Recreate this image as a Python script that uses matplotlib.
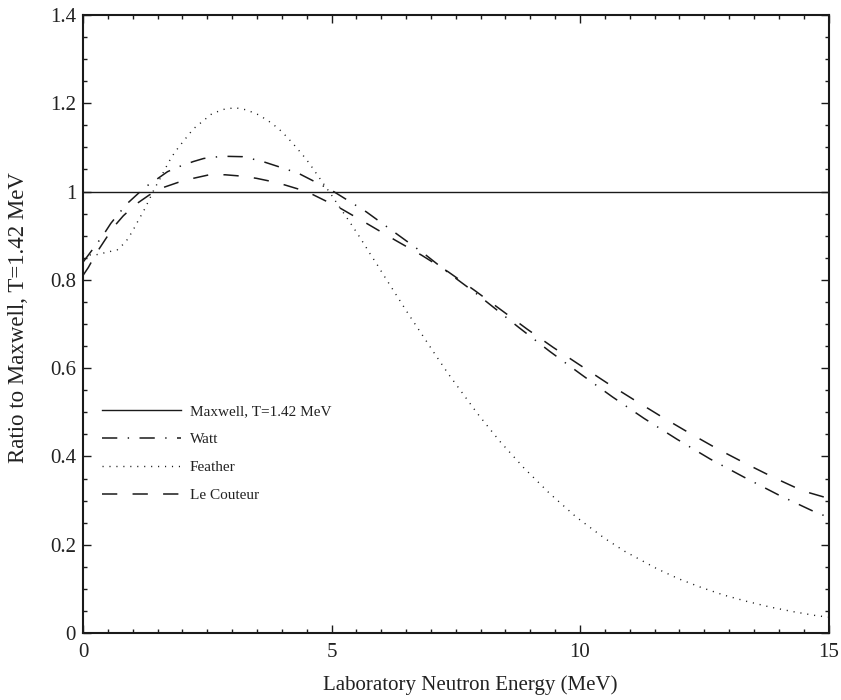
import numpy as np
import matplotlib
matplotlib.use("Agg")
import matplotlib.pyplot as plt
from matplotlib.ticker import MultipleLocator, FormatStrFormatter

plt.rcParams['font.family'] = ['Liberation Serif', 'DejaVu Serif']
plt.rcParams['lines.scale_dashes'] = False

# values (ratio to Maxwell, T=1.42 MeV)
e_maxwell = [0.0, 15.0]
maxwell = [1.0, 1.0]

e_watt = [0.0, 0.26, 0.41, 0.56, 0.71, 0.91, 1.25, 1.51, 1.70, 1.92, 2.22,
          2.43, 2.80, 3.21, 3.59, 4.00, 4.34, 5.00, 5.70, 6.30, 6.90, 7.35,
          7.90, 8.77, 9.39, 10.02, 10.65, 11.29, 11.95, 12.62, 13.30, 13.99,
          14.69, 15.0]
watt = [0.84, 0.879, 0.902, 0.928, 0.949, 0.975, 1.010, 1.030, 1.045, 1.056,
        1.068, 1.075, 1.080, 1.079, 1.069, 1.054, 1.041, 1.003, 0.954, 0.905,
        0.856, 0.816, 0.770, 0.692, 0.638, 0.586, 0.535, 0.486, 0.439, 0.394,
        0.353, 0.313, 0.276, 0.262]

e_feather = [0.0, 0.2, 0.46, 0.69, 0.86, 0.99, 1.10, 1.22, 1.33, 1.43, 1.55,
             1.66, 1.78, 1.92, 2.22, 2.59, 2.82, 3.06, 3.29, 3.53, 3.73, 3.93,
             4.10, 4.26, 4.42, 4.56, 4.70, 4.85, 5.00, 5.13, 5.27, 5.39, 5.52,
             5.65, 5.77, 5.91, 6.03, 6.29, 6.55, 6.95, 7.085, 7.35, 7.50, 7.93,
             8.38, 8.87, 9.38, 9.92, 10.50, 10.90, 11.54, 11.98, 12.43, 12.89,
             13.35, 13.82, 14.29, 14.77, 15.0]
feather = [0.86, 0.855, 0.862, 0.868, 0.886, 0.909, 0.932, 0.956, 0.981,
           1.005, 1.029, 1.053, 1.078, 1.100, 1.142, 1.176, 1.186, 1.190,
           1.185, 1.174, 1.160, 1.143, 1.124, 1.104, 1.083, 1.063, 1.040,
           1.016, 0.992, 0.970, 0.947, 0.927, 0.905, 0.882, 0.860, 0.836,
           0.814, 0.768, 0.722, 0.654, 0.631, 0.587, 0.564, 0.498, 0.435,
           0.374, 0.317, 0.263, 0.214, 0.185, 0.146, 0.123, 0.1035, 0.086,
           0.0718, 0.0589, 0.0483, 0.039, 0.036]

e_lc = [0.0, 0.107, 0.26, 0.44, 0.61, 0.81, 1.06, 1.33, 1.61, 1.92, 2.22,
        2.54, 2.86, 3.19, 3.49, 3.83, 4.06, 4.50, 5.15, 5.72, 6.28, 6.81,
        7.35, 7.88, 8.94, 9.46, 10.01, 10.55, 11.09, 11.64, 12.20, 12.75,
        13.33, 13.90, 14.48, 15.0]
lc = [0.81, 0.828, 0.859, 0.890, 0.919, 0.945, 0.971, 0.992, 1.009, 1.021,
      1.030, 1.038, 1.038, 1.035, 1.030, 1.022, 1.015, 1.000, 0.964, 0.927,
      0.890, 0.856, 0.818, 0.776, 0.688, 0.647, 0.606, 0.566, 0.528, 0.490,
      0.453, 0.418, 0.384, 0.352, 0.322, 0.305]

labels = ['Maxwell, T=1.42 MeV', 'Watt', 'Feather', 'Le Couteur']

fig = plt.figure(figsize=(8.41, 7.0), dpi=100)
ax = fig.add_axes([0.0987, 0.0957, 0.8865, 0.8829])

ink = '#1a1a1a'
ax.plot(e_maxwell, maxwell, color=ink, lw=1.0, label=labels[0])
ax.plot(e_watt, watt, color=ink, lw=1.1, dashes=(11, 7.5, 1, 7.5),
        label=labels[1])
ax.plot(e_feather, feather, color=ink, lw=1.0, dashes=(0.8, 4.2),
        label=labels[2])
ax.plot(e_lc, lc, color=ink, lw=1.1, dashes=(11, 11), label=labels[3])

ax.set_xlim(0, 15)
ax.set_ylim(0, 1.4)
ax.xaxis.set_major_locator(MultipleLocator(5))
ax.xaxis.set_minor_locator(MultipleLocator(0.5))
ax.yaxis.set_major_locator(MultipleLocator(0.2))
ax.yaxis.set_minor_locator(MultipleLocator(0.05))
ax.yaxis.set_major_formatter(FormatStrFormatter('%g'))

for s in ax.spines.values():
    s.set_linewidth(1.5)
    s.set_color(ink)
ax.tick_params(which='both', direction='in', top=True, right=True,
               color=ink, labelcolor='#222222', labelsize=15)
ax.tick_params(which='major', length=6, width=1.0)
ax.tick_params(which='minor', length=3, width=1.0)
ax.tick_params(axis='x', which='major', pad=7)
ax.tick_params(axis='y', which='major', pad=5)

ax.set_xlabel('Laboratory Neutron Energy (MeV)', fontsize=15, color='#222222')
ax.set_ylabel('Ratio to Maxwell, T=1.42 MeV', fontsize=16.5, color='#222222')
ax.xaxis.set_label_coords(0.52, -0.068)
ax.yaxis.set_label_coords(-0.073, 0.51)

ax.legend(loc='upper left', bbox_to_anchor=(0.0255, 0.369), frameon=False,
          fontsize=11, handlelength=5.15, handletextpad=0.6, labelspacing=0.92,
          borderpad=0, borderaxespad=0, labelcolor='#222222')

fig.savefig('out.png', dpi=100)
